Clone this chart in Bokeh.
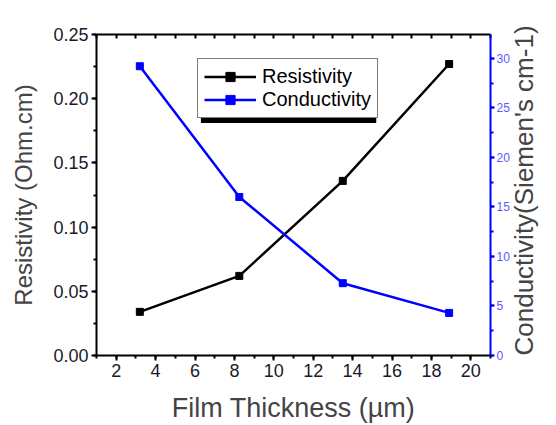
import math
from bokeh.plotting import figure
from bokeh.models import (LinearAxis, Range1d, SingleIntervalTicker, PrintfTickFormatter,
                          Legend, LegendItem, BoxAnnotation, ColumnDataSource)
from bokeh.embed import file_html
from bokeh.resources import INLINE

# ---- data ----
thickness = [3.2, 8.25, 13.5, 18.9]          # Film thickness (µm)
resistivity = [0.034, 0.062, 0.136, 0.227]   # Ohm.cm
conductivity = [29.2, 16.0, 7.3, 4.3]        # Siemen's cm-1

x_range_vals = (1, 21)
res_range = (0, 0.25)
cond_range = (0, 32.4)

FONT = "Liberation Sans"
BLUE = "#0000ff"

src = ColumnDataSource(dict(x=thickness, r=resistivity, c=conductivity))

p = figure(width=556, height=425, output_backend="svg", toolbar_location=None,
           x_range=Range1d(*x_range_vals), y_range=Range1d(*res_range),
           min_border_left=96, min_border_right=61, min_border_top=34, min_border_bottom=70)
p.extra_y_ranges = {"cond": Range1d(*cond_range)}
p.outline_line_color = None
p.xgrid.visible = False
p.ygrid.visible = False
p.background_fill_color = "white"
p.border_fill_color = "white"

# bottom axis
xa = p.xaxis[0]
xa.ticker = SingleIntervalTicker(interval=2, num_minor_ticks=2)
xa.axis_label = "Film Thickness (µm)"
xa.axis_label_text_font = FONT
xa.axis_label_text_font_size = "27px"
xa.axis_label_text_font_style = "normal"
xa.axis_label_standoff = 13
xa.major_label_text_font = FONT
xa.major_label_text_font_size = "18px"
xa.major_label_text_color = "#1a1a2a"
xa.major_label_standoff = 3
xa.axis_line_width = 2
xa.major_tick_line_width = 2
xa.minor_tick_line_width = 2
xa.major_tick_in = 0
xa.major_tick_out = 5
xa.minor_tick_in = 0
xa.minor_tick_out = 3

# left axis
ya = p.yaxis[0]
ya.ticker = SingleIntervalTicker(interval=0.05, num_minor_ticks=2)
ya.formatter = PrintfTickFormatter(format="%.2f")
ya.axis_label = "Resistivity (Ohm.cm)"
ya.axis_label_text_font = FONT
ya.axis_label_text_font_size = "24px"
ya.axis_label_text_font_style = "normal"
ya.axis_label_standoff = 13
ya.major_label_text_font = FONT
ya.major_label_text_font_size = "18px"
ya.major_label_text_color = "#1a1a2a"
ya.major_label_standoff = 3
ya.axis_line_width = 2
ya.major_tick_line_width = 2
ya.minor_tick_line_width = 2
ya.major_tick_in = 0
ya.major_tick_out = 5
ya.minor_tick_in = 0
ya.minor_tick_out = 3

# top axis (ticks only)
top = LinearAxis(ticker=SingleIntervalTicker(interval=1, num_minor_ticks=0),
                 major_label_text_font_size="0px", major_label_text_alpha=0,
                 axis_line_width=2, major_tick_line_width=2,
                 major_tick_in=4, major_tick_out=0, minor_tick_in=0, minor_tick_out=0)
p.add_layout(top, "above")

# right axis, title reading bottom to top
ra = LinearAxis(y_range_name="cond",
                ticker=SingleIntervalTicker(interval=5, num_minor_ticks=2),
                axis_label="Conductivity(Siemen's cm-1)",
                axis_label_orientation=math.pi / 2,
                axis_label_align="start",
                axis_label_text_font=FONT, axis_label_text_font_size="26px",
                axis_label_text_font_style="normal", axis_label_standoff=11,
                major_label_text_font=FONT, major_label_text_font_size="12px",
                major_label_text_color="#5a5aff", major_label_standoff=2,
                axis_line_color=BLUE, axis_line_width=2,
                major_tick_line_color=BLUE, minor_tick_line_color=BLUE,
                major_tick_line_width=2, minor_tick_line_width=2,
                major_tick_in=0, major_tick_out=4, minor_tick_in=0, minor_tick_out=3)
p.add_layout(ra, "right")

# series
l1 = p.line("x", "r", source=src, line_color="black", line_width=2.5)
s1 = p.scatter("x", "r", source=src, marker="square", size=7, color="black")
l2 = p.line("x", "c", source=src, line_color=BLUE, line_width=2.5, y_range_name="cond")
s2 = p.scatter("x", "c", source=src, marker="square", size=7, color=BLUE, y_range_name="cond")

# legend shadow
shadow = BoxAnnotation(left=6.3, right=15.2, top=0.225, bottom=0.1810,
                       fill_color="black", fill_alpha=1.0, line_color=None)
p.add_layout(shadow)

legend = Legend(items=[LegendItem(label="Resistivity", renderers=[l1, s1]),
                       LegendItem(label="Conductivity", renderers=[l2, s2])],
                location=(101, 237), orientation="vertical",
                label_text_font=FONT, label_text_font_size="20px", label_text_color="black",
                glyph_width=52, glyph_height=23, label_height=23, label_standoff=6,
                padding=6, spacing=0, margin=0,
                border_line_color="black", border_line_width=1.5,
                background_fill_color="white", background_fill_alpha=1.0)
p.add_layout(legend)

open("out.html", "w").write(file_html(p, INLINE))
